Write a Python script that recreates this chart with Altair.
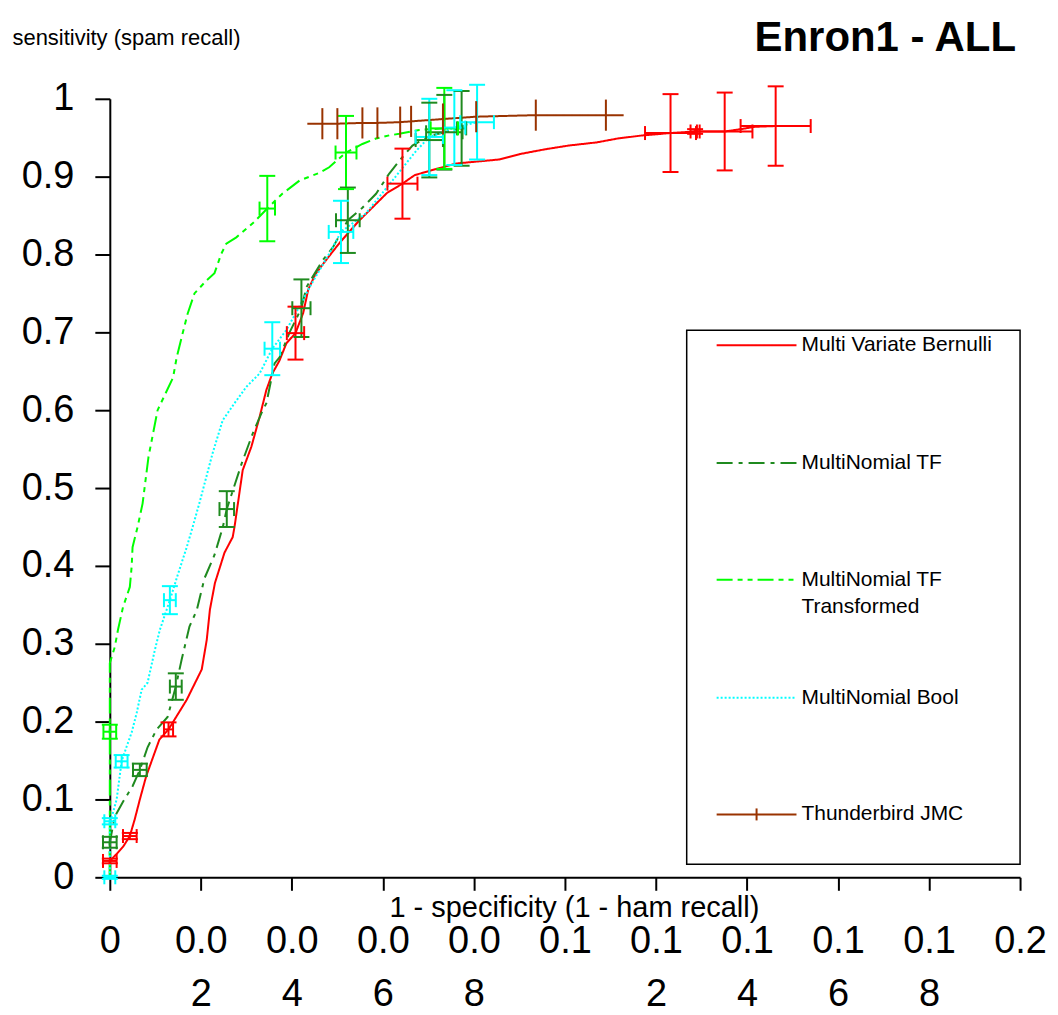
import json
import altair as alt
import pandas as pd

FONT = "Liberation Sans"

# ---------------- series definitions ----------------
series_names = ["Multi Variate Bernulli", "MultiNomial TF", "MultiNomial TF Transformed",
                "MultiNomial Bool", "Thunderbird JMC"]
series_colors = ["#ff0000", "#1f8a1f", "#00ff00", "#00ffff", "#993300"]
series_dashes = [[1, 0], [16, 6, 4, 6], [16, 5, 5, 5, 5, 5], [2, 2], [1, 0]]

# ---------------- curves (x = 1 - specificity, y = sensitivity) ----------------
bernulli_x = [0, 0.0015, 0.003, 0.0044, 0.0055, 0.0066, 0.008, 0.0109, 0.0129, 0.0149, 0.0169,
              0.0202, 0.0213, 0.022, 0.0231, 0.0252, 0.027, 0.0274, 0.0292, 0.0311, 0.0329, 0.0344,
              0.0357, 0.0373, 0.0388, 0.0408, 0.0425, 0.0436, 0.0452, 0.0478, 0.0505, 0.0547,
              0.0609, 0.0643, 0.067, 0.0724, 0.0763, 0.0855, 0.0901, 0.0955, 0.1009, 0.107,
              0.1116, 0.1171, 0.1232, 0.1286, 0.1351, 0.1386, 0.1417, 0.1463, 0.1536]
bernulli_y = [0.021, 0.03, 0.04, 0.053, 0.075, 0.1, 0.13, 0.177, 0.19, 0.209, 0.228,
              0.267, 0.305, 0.344, 0.378, 0.417, 0.437, 0.45, 0.523, 0.553, 0.591, 0.626,
              0.647, 0.664, 0.686, 0.699, 0.725, 0.755, 0.775, 0.795, 0.815, 0.843,
              0.879, 0.891, 0.902, 0.911, 0.917, 0.922, 0.929, 0.935, 0.94, 0.944,
              0.949, 0.953, 0.956, 0.958, 0.958, 0.961, 0.964, 0.965, 0.965]

tf_x = [0, 0, 0.0011, 0.0029, 0.005, 0.0066, 0.0083, 0.0103, 0.0127, 0.0145, 0.0158, 0.0175,
        0.0191, 0.0208, 0.023, 0.0248, 0.0257, 0.029, 0.0314, 0.0333, 0.0344, 0.0362, 0.0373,
        0.0395, 0.0421, 0.0432, 0.0467, 0.049, 0.0523, 0.0555, 0.0585, 0.0614, 0.064, 0.0665,
        0.0702, 0.0735, 0.0773]
tf_y = [0.0, 0.045, 0.078, 0.097, 0.117, 0.138, 0.167, 0.19, 0.206, 0.245, 0.28, 0.322,
        0.343, 0.384, 0.414, 0.449, 0.473, 0.532, 0.57, 0.596, 0.609, 0.66, 0.668,
        0.7, 0.731, 0.758, 0.792, 0.809, 0.844, 0.86, 0.878, 0.904, 0.923, 0.94,
        0.952, 0.957, 0.962]

tft_x = [0, 0, 0, 0, 0.0011, 0.0018, 0.0029, 0.0044, 0.0048, 0.005, 0.0061, 0.0072, 0.0085,
         0.0105, 0.0139, 0.0147, 0.0158, 0.0171, 0.0186, 0.0213, 0.023, 0.0245, 0.0256, 0.0278,
         0.0314, 0.0346, 0.0379, 0.0417, 0.0461, 0.0482, 0.0519, 0.0555, 0.0585, 0.0614,
         0.0636, 0.068, 0.0735]
tft_y = [0, 0.1, 0.187, 0.275, 0.296, 0.318, 0.347, 0.373, 0.399, 0.424, 0.45, 0.48, 0.54,
         0.6, 0.642, 0.668, 0.694, 0.724, 0.75, 0.767, 0.776, 0.801, 0.814, 0.822,
         0.84, 0.859, 0.878, 0.895, 0.905, 0.912, 0.931, 0.942, 0.949, 0.953,
         0.955, 0.96, 0.962]

bool_x = [0, 0, 0.0007, 0.0015, 0.0026, 0.0037, 0.0048, 0.0059, 0.007, 0.0083, 0.0099, 0.011,
          0.0132, 0.0149, 0.0169, 0.0182, 0.0197, 0.0226, 0.0248, 0.0274, 0.03, 0.0329, 0.0357,
          0.0388, 0.041, 0.0439, 0.0482, 0.0508, 0.0563, 0.0621, 0.0673, 0.0702, 0.0757, 0.0807]
bool_y = [0, 0.072, 0.083, 0.1, 0.149, 0.168, 0.186, 0.211, 0.241, 0.25, 0.292, 0.318,
          0.356, 0.388, 0.424, 0.45, 0.481, 0.545, 0.587, 0.609, 0.63, 0.647, 0.679,
          0.703, 0.726, 0.758, 0.801, 0.829, 0.853, 0.895, 0.933, 0.951, 0.963, 0.97]

thunder_x = [0.0434, 0.0467, 0.05, 0.0555, 0.0588, 0.0638, 0.0662, 0.0732, 0.0805, 0.0936,
             0.109, 0.1129]
thunder_y = [0.968, 0.968, 0.968, 0.969, 0.969, 0.97, 0.971, 0.974, 0.977, 0.979, 0.979, 0.979]

# ---------------- error bars: centre, +/- x, +/- y ----------------
bernulli_err_x = [0.0, 0.0044, 0.0129, 0.0408, 0.0643, 0.1232, 0.1286, 0.1351, 0.1463]
bernulli_err_y = [0.021, 0.053, 0.19, 0.699, 0.891, 0.956, 0.958, 0.958, 0.965]
bernulli_err_dx = [0.0015, 0.0015, 0.001, 0.0019, 0.0033, 0.0056, 0.001, 0.0061, 0.0077]
bernulli_err_dy = [0.003, 0.004, 0.009, 0.034, 0.045, 0.05, 0.003, 0.05, 0.051]

tf_err_x = [0, 0.0066, 0.0145, 0.0257, 0.0421, 0.0523, 0.0702, 0.0735, 0.0773]
tf_err_y = [0.045, 0.138, 0.245, 0.473, 0.731, 0.844, 0.947, 0.957, 0.962]
tf_err_dx = [0.0015, 0.0015, 0.0013, 0.0016, 0.002, 0.0026, 0.003, 0.004, 0.001]
tf_err_dy = [0.007, 0.008, 0.017, 0.023, 0.037, 0.042, 0.048, 0.048, 0.048]

tft_err_x = [0, 0.0346, 0.0519, 0.0735]
tft_err_y = [0.187, 0.859, 0.931, 0.962]
tft_err_dx = [0.0014, 0.0017, 0.0023, 0.003]
tft_err_dy = [0.009, 0.042, 0.047, 0.052]

bool_err_x = [0, 0, 0.0026, 0.0132, 0.0357, 0.0508, 0.0702, 0.0757, 0.0807]
bool_err_y = [0.0, 0.072, 0.149, 0.356, 0.679, 0.829, 0.951, 0.963, 0.97]
bool_err_dx = [0.0012, 0.0012, 0.0013, 0.0013, 0.0017, 0.0027, 0.003, 0.0024, 0.0037]
bool_err_dy = [0.002, 0.004, 0.008, 0.018, 0.034, 0.04, 0.049, 0.048, 0.048]

thunder_tick_x = [0.0467, 0.05, 0.0555, 0.0588, 0.0638, 0.0662, 0.0732, 0.0805, 0.0936, 0.109]
thunder_tick_y = [0.968, 0.968, 0.969, 0.969, 0.97, 0.971, 0.974, 0.977, 0.979, 0.979]
thunder_tick_dy = [0.02] * len(thunder_tick_x)

# ---------------- axes / texts ----------------
x_tick_values = [0, 0.02, 0.04, 0.06, 0.08, 0.1, 0.12, 0.14, 0.16, 0.18, 0.2]
x_tick_text = ["0", "0.0|2", "0.0|4", "0.0|6", "0.0|8", "0.1", "0.1|2", "0.1|4", "0.1|6", "0.1|8", "0.2"]
y_tick_values = [0, 0.1, 0.2, 0.3, 0.4, 0.5, 0.6, 0.7, 0.8, 0.9, 1.0]
y_tick_text = ["0", "0.1", "0.2", "0.3", "0.4", "0.5", "0.6", "0.7", "0.8", "0.9", "1"]

chart_title = "Enron1 - ALL"
legend_lines = [["Multi Variate Bernulli"], ["MultiNomial TF"], ["MultiNomial TF", "Transformed"],
                ["MultiNomial Bool"], ["Thunderbird JMC"]]

# ---------------- frames ----------------
curves = pd.concat([
    pd.DataFrame({"series": n, "x": xs, "y": ys, "order": range(len(xs))})
    for n, xs, ys in zip(series_names,
                         [bernulli_x, tf_x, tft_x, bool_x, thunder_x],
                         [bernulli_y, tf_y, tft_y, bool_y, thunder_y])
], ignore_index=True)

errs = pd.concat([
    pd.DataFrame({"series": n, "x": ex, "y": ey, "dx": dx, "dy": dy})
    for n, ex, ey, dx, dy in zip(series_names[:4],
                                 [bernulli_err_x, tf_err_x, tft_err_x, bool_err_x],
                                 [bernulli_err_y, tf_err_y, tft_err_y, bool_err_y],
                                 [bernulli_err_dx, tf_err_dx, tft_err_dx, bool_err_dx],
                                 [bernulli_err_dy, tf_err_dy, tft_err_dy, bool_err_dy])
], ignore_index=True)

ticks = pd.DataFrame({"series": series_names[4], "x": thunder_tick_x, "y": thunder_tick_y,
                      "dy": thunder_tick_dy})

W, H = 912, 780

x_scale = alt.Scale(domain=[0, 0.2], nice=False, zero=False)
y_scale = alt.Scale(domain=[0, 1], nice=False, zero=False)

x_axis = alt.Axis(
    values=x_tick_values,
    labelExpr=f"split({json.dumps(x_tick_text)}[round(datum.value * 50)], '|')",
    labelFont=FONT, labelFontSize=38, labelColor="black", labelPadding=32,
    labelBaseline="top", labelAlign="center", labelLineHeight=53,
    labelFlush=False, labelOverlap=False, labelBound=False,
    tickSize=13, tickWidth=2, tickColor="black", domainColor="black", domainWidth=2,
    grid=False,
    title="1 - specificity (1 - ham recall)", titleFont=FONT, titleFontSize=29,
    titleFontWeight="normal", titleColor="black", titleX=465, titleY=30,
    titleAlign="center", titleBaseline="middle", titleAngle=0,
)
y_axis = alt.Axis(
    values=y_tick_values,
    labelExpr=f"{json.dumps(y_tick_text)}[round(datum.value * 10)]",
    labelFont=FONT, labelFontSize=38, labelColor="black", labelPadding=21,
    labelBaseline="middle", labelFlush=False, labelOverlap=False, labelBound=False,
    tickSize=15, tickWidth=2, tickColor="black", domainColor="black", domainWidth=2,
    grid=False,
    title="sensitivity (spam recall)", titleFont=FONT, titleFontSize=22,
    titleFontWeight="normal", titleColor="black", titleAngle=0, titleX=-98, titleY=-61,
    titleAlign="left", titleBaseline="middle",
)


def X(field):
    return alt.X(f"{field}:Q", scale=x_scale, axis=x_axis)


def Y(field):
    return alt.Y(f"{field}:Q", scale=y_scale, axis=y_axis)


color = alt.Color("series:N", scale=alt.Scale(domain=series_names, range=series_colors), legend=None)
dash = alt.StrokeDash("series:N", scale=alt.Scale(domain=series_names, range=series_dashes), legend=None)

lines = alt.Chart(curves).mark_line(strokeWidth=2, clip=False).encode(
    x=X("x"), y=Y("y"), color=color, strokeDash=dash, order="order:Q"
)

err_base = alt.Chart(errs).transform_calculate(
    ylo="datum.y - datum.dy", yhi="datum.y + datum.dy",
    xlo="datum.x - datum.dx", xhi="datum.x + datum.dx",
)
v_bars = err_base.mark_rule(strokeWidth=2, clip=False).encode(
    x=X("x"), y=Y("ylo"), y2="yhi:Q", color=color)
h_bars = err_base.mark_rule(strokeWidth=2, clip=False).encode(
    x=X("xlo"), x2="xhi:Q", y=Y("y"), color=color)
cap_top = err_base.mark_rule(strokeWidth=2, xOffset=-8, x2Offset=8, clip=False).encode(
    x=X("x"), x2="x:Q", y=Y("yhi"), color=color)
cap_bot = err_base.mark_rule(strokeWidth=2, xOffset=-8, x2Offset=8, clip=False).encode(
    x=X("x"), x2="x:Q", y=Y("ylo"), color=color)
cap_left = err_base.mark_rule(strokeWidth=2, yOffset=-7, y2Offset=7, clip=False).encode(
    x=X("xlo"), y=Y("y"), y2="y:Q", color=color)
cap_right = err_base.mark_rule(strokeWidth=2, yOffset=-7, y2Offset=7, clip=False).encode(
    x=X("xhi"), y=Y("y"), y2="y:Q", color=color)

tb_ticks = alt.Chart(ticks).transform_calculate(
    ylo="datum.y - datum.dy", yhi="datum.y + datum.dy"
).mark_rule(strokeWidth=2, clip=False).encode(x=X("x"), y=Y("ylo"), y2="yhi:Q", color=color)

# ---------------- legend (drawn as a boxed key) and title ----------------
one = pd.DataFrame({"k": [0]})
leg_left, leg_top, leg_right, leg_bottom = 578, 232, 912, 767
row_y = [247, 365, 482, 600, 717]
line_x0, line_x1, text_x, line_h = 608, 688, 693, 27

legend_layers = [
    alt.Chart(one).mark_rect(fill="white", stroke="black", strokeWidth=1.5).encode(
        x=alt.value(leg_left), x2=alt.value(leg_right), y=alt.value(leg_top), y2=alt.value(leg_bottom))
]
for i, name in enumerate(series_names):
    legend_layers.append(
        alt.Chart(one).mark_rule(color=series_colors[i], strokeDash=series_dashes[i], strokeWidth=2).encode(
            x=alt.value(line_x0), x2=alt.value(line_x1), y=alt.value(row_y[i]))
    )
    for j, txt in enumerate(legend_lines[i]):
        legend_layers.append(
            alt.Chart(one).mark_text(text=txt, align="left", baseline="middle", font=FONT,
                                     fontSize=21, color="black").encode(
                x=alt.value(text_x), y=alt.value(row_y[i] + j * line_h))
        )
legend_layers.append(
    alt.Chart(one).mark_rule(color=series_colors[4], strokeWidth=2).encode(
        x=alt.value((line_x0 + line_x1) / 2), y=alt.value(row_y[4] - 6), y2=alt.value(row_y[4] + 6))
)

title_layer = alt.Chart(one).mark_text(
    text=chart_title, align="right", baseline="alphabetic", font=FONT, fontSize=42,
    fontWeight="bold", color="black"
).encode(x=alt.value(908), y=alt.value(-48))

chart = alt.layer(
    lines, v_bars, h_bars, cap_top, cap_bot, cap_left, cap_right, tb_ticks, *legend_layers, title_layer
).properties(
    width=W, height=H,
    autosize=alt.AutoSizeParams(type="none"),
    padding={"left": 102, "top": 90, "right": 30, "bottom": 140},
).configure_view(stroke=None)

chart.save("out.html", embed_options={"renderer": "svg", "actions": False})
